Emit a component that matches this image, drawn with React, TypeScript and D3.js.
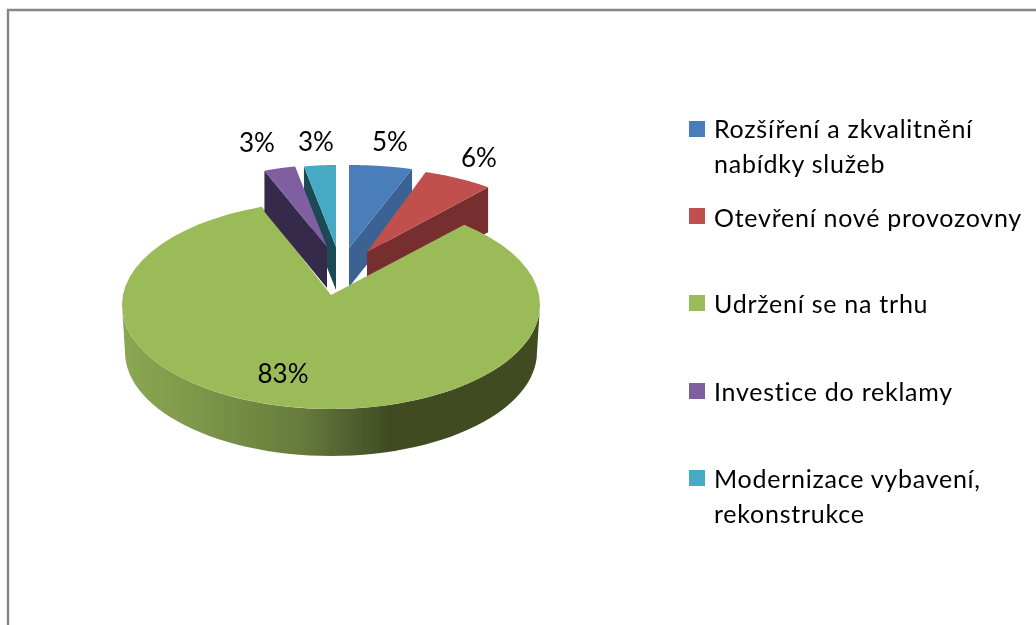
import React from "react";
import * as d3 from "d3";

const categories = ["Rozšíření a zkvalitnění|nabídky služeb", "Otevření nové provozovny", "Udržení se na trhu", "Investice do reklamy", "Modernizace vybavení,|rekonstrukce"];
const values = [5, 6, 83, 3, 3];
const valueLabels = ["5%", "6%", "83%", "3%", "3%"];
const topColors = ["#4a7ebb", "#c0504d", "#9bbb59", "#7f5f9f", "#46aac4"];
const sideColors = ["#3a6292", "#772f2d", "#4f5f2d", "#35294a", "#1d4a57"];

const W = 1036, H = 625;
// Per-slice placement of the exploded, perspective-projected pie
const geo = [
  { ax: 349, ay: 248, cx: 349, cy: 248, rx: 204, ry: 83, d: 39, side: "end" },
  { ax: 367, ay: 252, cx: 367, cy: 252, rx: 190, ry: 84, d: 45, side: "end" },
  { ax: 331, ay: 295, cx: 331, cy: 305, rx: 209, ry: 104, d: 47, side: "" },
  { ax: 327, ay: 247, cx: 327, cy: 247, rx: 170, ry: 82, d: 41, side: "start" },
  { ax: 336, ay: 247, cx: 336, cy: 247, rx: 171, ry: 82, d: 43, side: "start" },
];
const labelPos = [[390, 151], [479, 167], [283, 383], [257, 152], [316, 151]];
const legendY = [[138, 173], [227], [313], [401], [488, 523]];
const legendSwatchY = [121, 208, 295, 383, 470];

const pie = d3.pie<number>().sort(null)(values);
const pt = (g: any, a: number, dy = 0, dr = 0) => [g.cx + (g.rx - dr) * Math.sin(a), g.cy + dy - g.ry * Math.cos(a)] as [number, number];
const rim = (g: any, a0: number, a1: number, dy = 0, dr = 0) =>
  d3.range(0, 61).map((i) => pt(g, a0 + ((a1 - a0) * i) / 60, dy, dr));
const line = d3.line();

function slicePath(i: number, overlap = 0) {
  const g = geo[i], s = pie[i];
  return line([[g.ax, g.ay], ...rim(g, s.startAngle, s.endAngle + overlap)])! + "Z";
}
function sidePath(i: number) {
  const g = geo[i], s = pie[i];
  const a = g.side === "end" ? s.endAngle : s.startAngle;
  const p = pt(g, a);
  return line([[g.ax, g.ay], p, [p[0], p[1] + g.d], [g.ax, g.ay + g.d]])! + "Z";
}

export default function App() {
  const gg = geo[2];
  const wallTop = rim(gg, Math.PI / 2, Math.PI * 1.5);
  const wallBot = rim(gg, Math.PI / 2, Math.PI * 1.5, gg.d, 3).reverse();
  const wall = line([...wallTop, ...wallBot])! + "Z";
  const x = d3.scaleLinear().domain([122, 540]).range([0, 100]);
  const stops: [number, string][] = [[122, "#8ba854"], [190, "#7e994b"], [300, "#677c3c"], [390, "#3f4b23"], [540, "#3f4b23"]];
  const order = [4, 0, 1];
  return (
    <svg width={W} height={H} style={{ position: "absolute", left: 0, top: 0, background: "#fff" }} fontFamily="Lato, sans-serif">
      <defs>
        <linearGradient id="wall" x1="0" x2="1" y1="0" y2="0">
          {stops.map(([v, c]) => <stop key={v} offset={x(v) + "%"} stopColor={c} />)}
        </linearGradient>
        <filter id="soft"><feGaussianBlur stdDeviation="0.6" /></filter>
        <filter id="softText"><feGaussianBlur stdDeviation="0.35" /></filter>
      </defs>
      <path d={`M8 ${H}V10H${W}`} fill="none" stroke="#868686" strokeWidth={2.4} />
      <g filter="url(#soft)">
        {order.map((i) => (
          <g key={i}>
            <path d={sidePath(i)} fill={sideColors[i]} />
            <path d={slicePath(i)} fill={topColors[i]} />
          </g>
        ))}
        <path d={wall} fill="url(#wall)" />
        <path d={slicePath(2, 0.04)} fill={topColors[2]} />
        <path d={sidePath(3)} fill={sideColors[3]} />
        <path d={slicePath(3)} fill={topColors[3]} />
      </g>
      <g fill="#000" fontSize={26} textAnchor="middle" filter="url(#softText)">
        {valueLabels.map((t, i) => <text key={i} x={labelPos[i][0]} y={labelPos[i][1]}>{t}</text>)}
      </g>
      {categories.map((c, i) => (
        <rect key={i} x={689} y={legendSwatchY[i]} width={16} height={16} fill={topColors[i]} />
      ))}
      <g fontSize={25} fill="#000" letterSpacing={0.75} filter="url(#softText)">
        {categories.map((c, i) => (
          <g key={i}>
            {c.split("|").map((t, j) => <text key={j} x={714} y={legendY[i][j]}>{t}</text>)}
          </g>
        ))}
      </g>
    </svg>
  );
}
